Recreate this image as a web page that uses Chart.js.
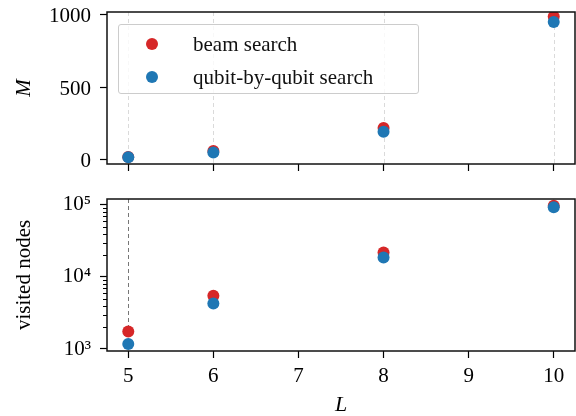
<!DOCTYPE html>
<html>
<head>
<meta charset="utf-8">
<script src="https://cdn.jsdelivr.net/npm/chart.js@4"></script>
<style>
    body { margin: 0; background: #fff; }
    #wrap { position: relative; width: 576px; height: 416px; }
    #topChart { position: absolute; left: 0; top: 0; }
    #bottomChart { position: absolute; left: 0; top: 185px; }
    #legend {
        position: absolute; left: 118px; top: 24px; width: 299px; height: 68px;
        border: 1.5px solid #cccccc; border-radius: 3px;
        background: rgba(255, 255, 255, 0.8);
        font-family: 'Liberation Serif', serif; font-size: 21px; color: #111;
    }
    #legend .row { position: absolute; left: 0; height: 24px; line-height: 24px; white-space: nowrap; }
    #legend .dot { position: absolute; left: 27px; top: 6px; width: 12px; height: 12px; border-radius: 50%; }
    #legend .txt { position: absolute; left: 74px; top: 0; }
</style>
</head>
<body>
<div id="wrap">
    <canvas id="topChart" width="576" height="185"></canvas>
    <canvas id="bottomChart" width="576" height="231"></canvas>
    <div id="legend"></div>
</div>
<script>
const lengths = [5, 6, 8, 10];
const xTicks = [5, 6, 7, 8, 9, 10];
const beamM = [20, 62, 220, 988];
const qubitM = [18, 52, 194, 950];
const beamNodes = [1750, 5480, 21800, 97800];
const qubitNodes = [1173, 4290, 18600, 93000];
const mTicks = [0, 500, 1000];
const nodeMajorTicks = [1000, 10000, 100000];
const seriesLabels = ['beam search', 'qubit-by-qubit search'];
const seriesColors = ['#d62728', '#1f77b4'];

const serif = 'Liberation Serif';
const supers = { '3': '\u00b3', '4': '\u2074', '5': '\u2075' };

const plots = {
    points: function (values) {
        return lengths.map((l, i) => ({ x: l, y: values[i] }));
    },
    datasets: function (beam, qubit) {
        return [
            { label: seriesLabels[0], data: plots.points(beam), backgroundColor: seriesColors[0], borderWidth: 0, pointRadius: 6, order: 1 },
            { label: seriesLabels[1], data: plots.points(qubit), backgroundColor: seriesColors[1], borderWidth: 0, pointRadius: 6, order: 0 }
        ];
    },
    // keep the plot area where we put it, labels may hang over the edges
    noOverhang: function (scale) {
        scale.paddingTop = 0;
        scale.paddingBottom = 0;
        scale.paddingLeft = 0;
        scale.paddingRight = 0;
    },
    xScale: function (showLabels, height) {
        return {
            type: 'linear',
            min: 4.75,
            max: 10.25,
            afterBuildTicks: (scale) => { scale.ticks = xTicks.map(v => ({ value: v })); },
            afterFit: (scale) => { scale.height = height; plots.noOverhang(scale); },
            grid: { drawOnChartArea: false, tickLength: 7, tickColor: '#000', tickWidth: 1.2 },
            border: { display: false },
            ticks: {
                display: showLabels,
                padding: 6,
                color: '#000',
                font: { family: serif, size: 21 },
                callback: (v) => String(v)
            },
            title: {
                display: showLabels,
                text: 'L',
                color: '#000',
                padding: { top: 0, bottom: -2 },
                font: { family: serif, size: 22, style: 'italic' }
            }
        };
    },
    yTitle: function (text, italic) {
        return {
            display: true,
            text: text,
            color: '#000',
            padding: { top: 12, bottom: 0 },
            font: { family: serif, size: 21, style: italic ? 'italic' : 'normal' }
        };
    },
    // frame round the plot area plus the dashed guide lines
    framePlugin: function (guides) {
        return {
            id: 'frame',
            beforeDatasetsDraw: function (chart) {
                const ctx = chart.ctx;
                const area = chart.chartArea;
                const xs = chart.scales.x;
                const ys = chart.scales.y;
                ctx.save();
                ctx.setLineDash([4, 3]);
                ctx.lineWidth = guides.width;
                ctx.strokeStyle = guides.color;
                guides.at.forEach((l) => {
                    const px = Math.round(xs.getPixelForValue(l)) + 0.5;
                    const bottom = guides.toValue ? ys.getPixelForValue(guides.toValue(l)) : area.bottom;
                    ctx.beginPath();
                    ctx.moveTo(px, area.top);
                    ctx.lineTo(px, bottom);
                    ctx.stroke();
                });
                ctx.restore();
            },
            afterDraw: function (chart) {
                const ctx = chart.ctx;
                const a = chart.chartArea;
                ctx.save();
                ctx.lineWidth = 1.5;
                ctx.strokeStyle = '#111';
                ctx.strokeRect(a.left, a.top, a.right - a.left, a.bottom - a.top);
                ctx.restore();
            }
        };
    },
    minorTickPlugin: {
        id: 'minorTicks',
        afterDraw: function (chart) {
            const ctx = chart.ctx;
            const ys = chart.scales.y;
            const left = chart.chartArea.left;
            ctx.save();
            ctx.lineWidth = 1;
            ctx.strokeStyle = '#000';
            ys.ticks.forEach((t) => {
                if (nodeMajorTicks.includes(t.value)) {
                    return;
                }
                const py = Math.round(ys.getPixelForValue(t.value)) + 0.5;
                ctx.beginPath();
                ctx.moveTo(left - 4, py);
                ctx.lineTo(left, py);
                ctx.stroke();
            });
            ctx.restore();
        }
    }
};

Chart.defaults.animation = false;

new Chart(document.getElementById('topChart'), {
    type: 'scatter',
    data: { datasets: plots.datasets(beamM, qubitM) },
    options: {
        responsive: false,
        layout: { autoPadding: false, padding: { top: 12, right: 1, left: 0, bottom: 0 } },
        plugins: { legend: { display: false }, tooltip: { enabled: false } },
        scales: {
            x: plots.xScale(false, 21),
            y: {
                type: 'linear',
                min: -28,
                max: 1019,
                afterBuildTicks: (scale) => { scale.ticks = mTicks.map(v => ({ value: v })); },
                afterFit: (scale) => { scale.width = 107; plots.noOverhang(scale); },
                grid: { drawOnChartArea: false, tickLength: 7, tickColor: '#000', tickWidth: 1.2 },
                border: { display: false },
                ticks: { padding: 9, labelOffset: 2, color: '#000', font: { family: serif, size: 21 }, callback: (v) => String(v) },
                title: plots.yTitle('M', true)
            }
        }
    },
    plugins: [plots.framePlugin({ at: lengths, color: '#d0d0d0', width: 0.8 })]
});

const nodeTicks = [];
[1000, 10000].forEach((base) => {
    for (let k = 1; k < 10; k++) {
        nodeTicks.push(base * k);
    }
});
nodeTicks.push(100000);

new Chart(document.getElementById('bottomChart'), {
    type: 'scatter',
    data: { datasets: plots.datasets(beamNodes, qubitNodes) },
    options: {
        responsive: false,
        layout: { autoPadding: false, padding: { top: 14, right: 1, left: 0, bottom: 0 } },
        plugins: { legend: { display: false }, tooltip: { enabled: false } },
        scales: {
            x: plots.xScale(true, 65),
            y: {
                type: 'logarithmic',
                min: 938,
                max: 121000,
                afterBuildTicks: (scale) => { scale.ticks = nodeTicks.map(v => ({ value: v })); },
                afterFit: (scale) => { scale.width = 107; plots.noOverhang(scale); },
                grid: {
                    drawOnChartArea: false,
                    tickLength: 7,
                    tickWidth: 1.2,
                    tickColor: (c) => (c.tick && nodeMajorTicks.includes(c.tick.value)) ? '#000' : 'rgba(0,0,0,0)'
                },
                border: { display: false },
                ticks: {
                    padding: 9,
                    color: '#000',
                    autoSkip: false,
                    font: { family: serif, size: 21 },
                    callback: (v) => {
                        if (!nodeMajorTicks.includes(v)) {
                            return '';
                        }
                        const exp = String(Math.round(Math.log10(v)));
                        return '10' + supers[exp];
                    }
                },
                title: plots.yTitle('visited nodes', false)
            }
        }
    },
    plugins: [
        plots.framePlugin({ at: [5], color: '#777', width: 1, toValue: (l) => Math.min(...qubitNodes.filter((v, i) => lengths[i] === l)) }),
        plots.minorTickPlugin
    ]
});

const legendBox = document.getElementById('legend');
seriesLabels.forEach((label, i) => {
    const row = document.createElement('div');
    row.className = 'row';
    row.style.top = (7 + i * 33) + 'px';
    row.innerHTML = '<span class="dot" style="background:' + seriesColors[i] + '"></span><span class="txt">' + label + '</span>';
    legendBox.appendChild(row);
});
</script>
</body>
</html>
